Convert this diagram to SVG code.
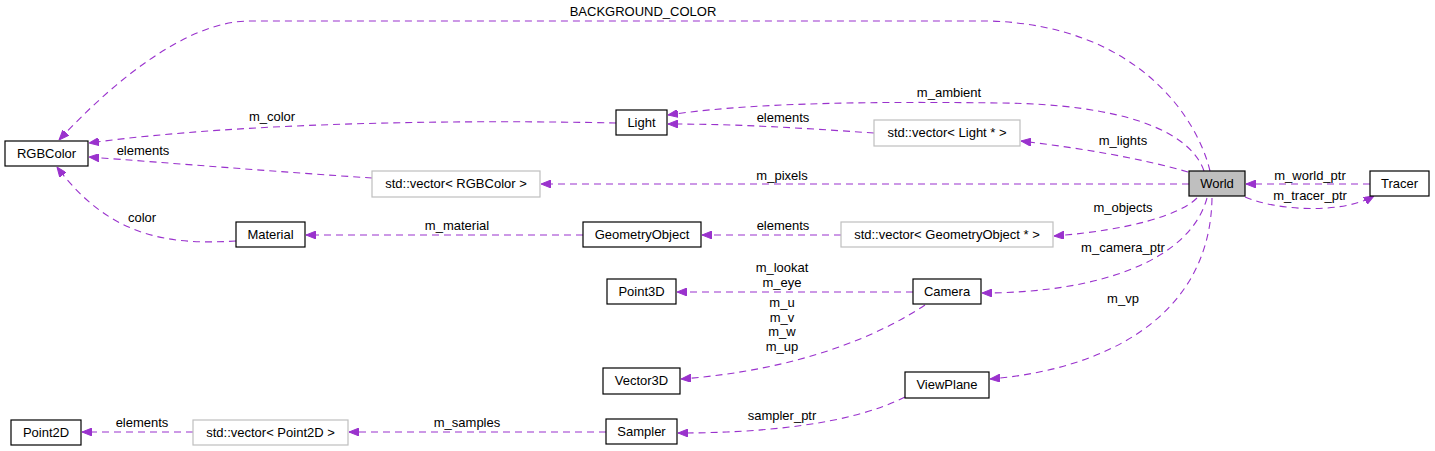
<svg xmlns="http://www.w3.org/2000/svg" width="1435" height="451" viewBox="0 0 1435 451">
<style>
text{font-family:"Liberation Sans",Arial,sans-serif;font-size:13px;fill:#000;text-anchor:middle}
.n{fill:#fff;stroke:#000;stroke-width:1.2}
.g{fill:#fff;stroke:#bfbfbf;stroke-width:1.2}
.w{fill:#bfbfbf;stroke:#000;stroke-width:1.2}
.e{fill:none;stroke:#9a32cd;stroke-width:1.1;stroke-dasharray:7,5;marker-end:url(#ah)}
</style>
<defs>
<marker id="ah" viewBox="0 0 10 8" refX="10" refY="4" markerWidth="10" markerHeight="8" markerUnits="userSpaceOnUse" orient="auto">
<path d="M0,0 L10,4 L0,8 z" fill="#9a32cd" stroke="#9a32cd"/>
</marker>
</defs>
<rect width="1435" height="451" fill="#fff"/>
<g id="edges">
<path class="e" d="M1210,171 C1198,120 1140,26 990,21 L250,21 C185,21 110,85 59,140"/>
<text x="643" y="16">BACKGROUND_COLOR</text>
<path class="e" d="M1204,171 C1190,130 1120,104 1000,103 C850,101 740,104 668,115"/>
<text x="949" y="97">m_ambient</text>
<path class="e" d="M874,133 C800,128 740,124 668,124"/>
<text x="783" y="122">elements</text>
<path class="e" d="M1188,172 C1140,158 1080,148 1021,141"/>
<text x="1123" y="145">m_lights</text>
<path class="e" d="M616,123 C480,120 250,121 89,143"/>
<text x="272" y="121">m_color</text>
<path class="e" d="M372,178 C280,172 170,163 89,157"/>
<text x="143" y="155">elements</text>
<path class="e" d="M1189,184 L541,184"/>
<text x="782" y="180">m_pixels</text>
<path class="e" d="M1370,184 L1246,184"/>
<text x="1310" y="180">m_world_ptr</text>
<path class="e" d="M1245,197 C1275,210 1340,215 1374,196"/>
<text x="1310" y="200">m_tracer_ptr</text>
<path class="e" d="M1197,198 C1180,215 1130,230 1054,236"/>
<text x="1123" y="212">m_objects</text>
<path class="e" d="M841,235 L702,235"/>
<text x="783" y="230">elements</text>
<path class="e" d="M583,235 L306,235"/>
<text x="457" y="230">m_material</text>
<path class="e" d="M236,241 C170,245 110,238 57,167"/>
<text x="142" y="222">color</text>
<path class="e" d="M1207,198 C1190,260 1100,293 982,293"/>
<text x="1123" y="252">m_camera_ptr</text>
<path class="e" d="M1212,198 C1210,320 1100,370 990,379"/>
<text x="1123" y="303">m_vp</text>
<path class="e" d="M913,292 L677,292"/>
<text x="782" y="272">m_lookat</text>
<text x="782" y="287">m_eye</text>
<path class="e" d="M925,305 C880,335 800,370 681,379"/>
<text x="782" y="307">m_u</text>
<text x="782" y="321.5">m_v</text>
<text x="782" y="336">m_w</text>
<text x="782" y="350.5">m_up</text>
<path class="e" d="M905,397 C850,425 760,433 678,433"/>
<text x="782" y="420">sampler_ptr</text>
<path class="e" d="M606,432 L349,432"/>
<text x="467" y="427">m_samples</text>
<path class="e" d="M193,432 L82,432"/>
<text x="142" y="427">elements</text>
</g>
<g id="RGBColor"><rect class="n" x="5" y="141" width="83" height="25"/><text x="46.5" y="158">RGBColor</text></g>
<g id="Material"><rect class="n" x="236" y="222" width="69" height="25"/><text x="270.5" y="239">Material</text></g>
<g id="Light"><rect class="n" x="616" y="110" width="51" height="25"/><text x="641.5" y="127">Light</text></g>
<g id="vecRGB"><rect class="g" x="372" y="171" width="168" height="26"/><text x="456" y="188">std::vector&lt; RGBColor &gt;</text></g>
<g id="GeometryObject"><rect class="n" x="583" y="222" width="118" height="25"/><text x="642" y="239">GeometryObject</text></g>
<g id="vecLight"><rect class="g" x="874" y="120" width="146" height="26"/><text x="947" y="137">std::vector&lt; Light * &gt;</text></g>
<g id="vecGeo"><rect class="g" x="841" y="222" width="212" height="25"/><text x="947" y="239">std::vector&lt; GeometryObject * &gt;</text></g>
<g id="World"><rect class="w" x="1189" y="171" width="56" height="25"/><text x="1217" y="188">World</text></g>
<g id="Tracer"><rect class="n" x="1370" y="171" width="59" height="25"/><text x="1399.5" y="188">Tracer</text></g>
<g id="Point3D"><rect class="n" x="607" y="279" width="69" height="25"/><text x="641.5" y="296">Point3D</text></g>
<g id="Camera"><rect class="n" x="913" y="279" width="68" height="25"/><text x="947" y="296">Camera</text></g>
<g id="Vector3D"><rect class="n" x="603" y="368" width="77" height="26"/><text x="641.5" y="385">Vector3D</text></g>
<g id="ViewPlane"><rect class="n" x="905" y="372" width="84" height="26"/><text x="947" y="389">ViewPlane</text></g>
<g id="Sampler"><rect class="n" x="606" y="419" width="71" height="25"/><text x="641.5" y="436">Sampler</text></g>
<g id="Point2D"><rect class="n" x="11" y="420" width="70" height="25"/><text x="46" y="437">Point2D</text></g>
<g id="vecP2D"><rect class="g" x="193" y="420" width="155" height="25"/><text x="270.5" y="437">std::vector&lt; Point2D &gt;</text></g>
</svg>
